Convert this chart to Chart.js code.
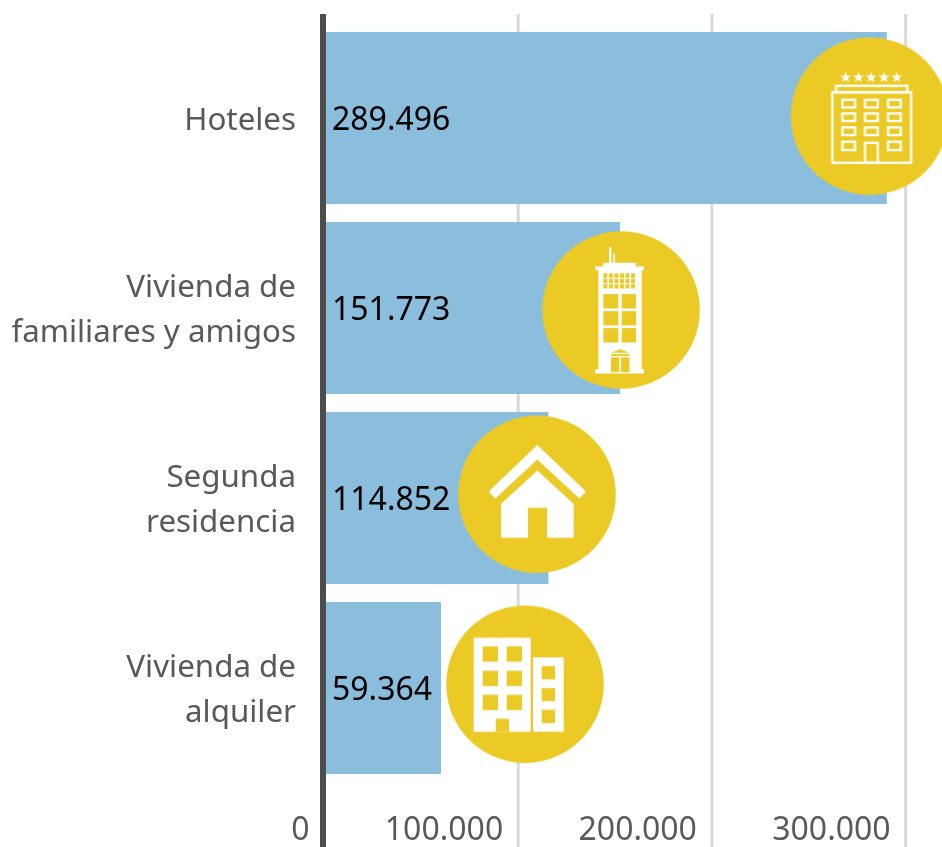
<!DOCTYPE html>
<html>
<head>
<meta charset="utf-8">
<script src="https://cdn.jsdelivr.net/npm/chart.js@4"></script>
<style>
    html, body { margin: 0; padding: 0; background: #fff; overflow: hidden; }
    canvas { display: block; }
</style>
</head>
<body>
<canvas id="alojamientoChart" width="942" height="847"></canvas>
<script>
const categories = ['Hoteles', ['Vivienda de', 'familiares y amigos'], ['Segunda', 'residencia'], ['Vivienda de', 'alquiler']];
const values = [289496, 151773, 114852, 59364];
const tickValues = [0, 100000, 200000, 300000];
// where the round badges sit, read in axis units
const badgeValues = [280600, 152300, 108900, 102700];
const badgeRows = [-0.01, 1.01, 1.98, 2.98];

const BLUE = '#8bbddc';
const YELLOW = '#ebca26';
const FONT = '"Noto Sans"';

function formatNumber(n) {
    return n.toLocaleString('de-DE');
}

function rect(ctx, x1, y1, x2, y2) {
    ctx.fillRect(x1, y1, x2 - x1, y2 - y1);
}

function poly(ctx, pts) {
    ctx.beginPath();
    pts.forEach((p, i) => i ? ctx.lineTo(p[0], p[1]) : ctx.moveTo(p[0], p[1]));
    ctx.closePath();
    ctx.fill();
}

function drawHotel(ctx) {
    ctx.strokeStyle = '#fff';
    ctx.fillStyle = '#fff';
    ctx.lineWidth = 7;
    [197, 235, 273, 312, 350].forEach(x => {
        const pts = [];
        for (let i = 0; i < 10; i++) {
            const r = i % 2 ? 7 : 17;
            const a = -Math.PI / 2 + i * Math.PI / 5;
            pts.push([x + r * Math.cos(a), 172 + r * Math.sin(a)]);
        }
        poly(ctx, pts);
    });
    ctx.strokeRect(168, 197, 214, 20);
    ctx.strokeRect(157, 216, 236, 212);
    [187, 255, 324].forEach(x => {
        [239, 280, 322].forEach(y => ctx.strokeRect(x, y, 38, 23));
    });
    ctx.strokeRect(187, 365, 38, 25);
    ctx.strokeRect(324, 365, 38, 25);
    ctx.strokeRect(255, 368, 38, 60);
}

function drawTower(ctx) {
    ctx.fillStyle = '#fff';
    rect(ctx, 237, 83, 244, 132);
    rect(ctx, 250, 103, 255, 132);
    rect(ctx, 220, 130, 318, 143);
    rect(ctx, 195, 141, 342, 152);
    rect(ctx, 205, 150, 335, 452);
    rect(ctx, 195, 450, 342, 462);
    ctx.fillStyle = YELLOW;
    for (let row = 0; row < 3; row++) {
        for (let col = 0; col < 6; col++) {
            rect(ctx, 220 + col * 16.6, 162 + row * 16, 232 + col * 16.6, 175 + row * 16);
        }
    }
    [[220, 265], [275, 318]].forEach(c => {
        [[224, 267], [275, 318], [326, 369]].forEach(r => rect(ctx, c[0], r[0], c[1], r[1]));
    });
    poly(ctx, [[243, 400], [270, 389], [298, 400]]);
    rect(ctx, 243, 404, 298, 410);
    rect(ctx, 243, 414, 268, 458);
    rect(ctx, 273, 414, 298, 458);
}

function drawHouse(ctx) {
    ctx.fillStyle = '#fff';
    poly(ctx, [[292, 106], [438, 245], [418, 266], [292, 149], [166, 266], [146, 245]]);
    poly(ctx, [[292, 182], [401, 283], [401, 384], [321, 384], [321, 294], [264, 294], [264, 384], [183, 384], [183, 283]]);
}

function drawFlats(ctx) {
    ctx.fillStyle = '#fff';
    rect(ctx, 131, 129, 302, 411);
    rect(ctx, 309, 188, 401, 411);
    ctx.fillStyle = YELLOW;
    [[158, 204], [230, 276]].forEach(c => {
        [[155, 201], [228, 274], [300, 346]].forEach(r => rect(ctx, c[0], r[0], c[1], r[1]));
    });
    rect(ctx, 197, 372, 237, 411);
    [[214, 254], [280, 319], [345, 385]].forEach(r => rect(ctx, 335, r[0], 375, r[1]));
}

// yellow disc with its white glyph
function makeBadge(drawIcon, cx, cy) {
    const c = document.createElement('canvas');
    c.width = 160;
    c.height = 160;
    const ctx = c.getContext('2d');
    ctx.fillStyle = YELLOW;
    ctx.beginPath();
    ctx.arc(80, 80, 78.8, 0, Math.PI * 2);
    ctx.fill();
    ctx.translate(80, 80);
    ctx.scale(1 / 3, 1 / 3);
    ctx.translate(-cx, -cy);
    drawIcon(ctx);
    return c;
}

const badges = [
    makeBadge(drawHotel, 268.5, 288),
    makeBadge(drawTower, 273, 271.5),
    makeBadge(drawHouse, 291, 253.5),
    makeBadge(drawFlats, 285, 268.5)
];

// grid and axis run past the bars on both ends, so they are drawn here
const axisLines = {
    id: 'axisLines',
    beforeDatasetsDraw(chart) {
        const ctx = chart.ctx;
        const x = chart.scales.x;
        ctx.save();
        tickValues.forEach(v => {
            const px = x.getPixelForValue(v);
            if (v === 0) return;
            ctx.beginPath();
            ctx.strokeStyle = '#d9d9d9';
            ctx.lineWidth = 3;
            ctx.moveTo(px - 1.5, 14);
            ctx.lineTo(px - 1.5, 847);
            ctx.stroke();
        });
        ctx.restore();
    },
    afterDatasetsDraw(chart) {
        const ctx = chart.ctx;
        const px = chart.scales.x.getPixelForValue(0);
        ctx.save();
        ctx.beginPath();
        ctx.strokeStyle = '#4d4d4d';
        ctx.lineWidth = 6;
        ctx.moveTo(px - 3, 14);
        ctx.lineTo(px - 3, 847);
        ctx.stroke();
        ctx.restore();
    }
};

const valueLabels = {
    id: 'valueLabels',
    afterDatasetsDraw(chart) {
        const ctx = chart.ctx;
        const x = chart.scales.x;
        const y = chart.scales.y;
        const bars = chart.getDatasetMeta(0).data;
        ctx.save();
        ctx.font = '32px ' + FONT;
        ctx.fillStyle = '#000';
        ctx.textAlign = 'left';
        ctx.textBaseline = 'middle';
        bars.forEach((bar, i) => {
            ctx.fillText(formatNumber(values[i]), bar.base + 6, bar.y + 3);
        });
        badges.forEach((badge, i) => {
            ctx.drawImage(badge, x.getPixelForValue(badgeValues[i]) - 80, y.getPixelForValue(badgeRows[i]) - 80);
        });
        ctx.restore();
    }
};

new Chart(document.getElementById('alojamientoChart').getContext('2d'), {
    type: 'bar',
    data: {
        labels: categories,
        datasets: [{
            data: values,
            backgroundColor: BLUE,
            categoryPercentage: 1,
            barPercentage: 172 / 190
        }]
    },
    options: {
        indexAxis: 'y',
        responsive: false,
        animation: false,
        events: [],
        layout: { padding: { top: 23, right: 0, bottom: 0, left: 0 } },
        plugins: { legend: { display: false }, tooltip: { enabled: false } },
        scales: {
            x: {
                type: 'linear',
                min: 0,
                max: 318000,
                afterBuildTicks(scale) {
                    scale.ticks = tickValues.map(v => ({ value: v }));
                },
                afterFit(scale) {
                    scale.height = 64;
                    scale.paddingLeft = 0;
                    scale.paddingRight = 0;
                },
                grid: { display: false },
                border: { display: false },
                ticks: {
                    align: 'end',
                    labelOffset: -16.5,
                    padding: 21,
                    maxRotation: 0,
                    autoSkip: false,
                    color: '#595959',
                    font: { family: FONT, size: 32 },
                    callback: v => formatNumber(v)
                }
            },
            y: {
                type: 'category',
                afterFit(scale) {
                    scale.width = 326;
                    scale.paddingTop = 0;
                    scale.paddingBottom = 0;
                },
                grid: { display: false, drawTicks: false },
                border: { display: false },
                ticks: {
                    padding: 30,
                    labelOffset: 3,
                    autoSkip: false,
                    color: '#595959',
                    font: { family: FONT, size: 31.3, lineHeight: 45 / 31.3 }
                }
            }
        }
    },
    plugins: [axisLines, valueLabels]
});
</script>
</body>
</html>
